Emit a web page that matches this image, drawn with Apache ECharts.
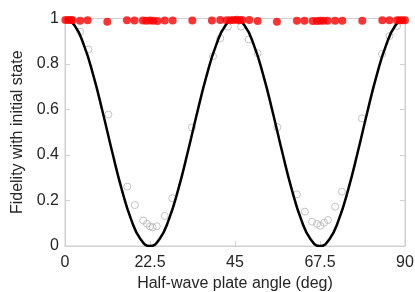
<!DOCTYPE html>
<html><head><meta charset="utf-8">
<script src="https://cdn.jsdelivr.net/npm/echarts@6/dist/echarts.min.js"></script>
<style>html,body{margin:0;padding:0;background:#fff}#c{width:415px;height:292px}</style>
</head><body><div id="c"></div>
<script>
// theory curve
const theoryAngles = [0,2.5,5,7.5,10,12.5,15,17.5,20,22.5,25,27.5,30,32.5,35,37.5,40,42.5,45,47.5,50,52.5,55,57.5,60,62.5,65,67.5,70,72.5,75,77.5,80,82.5,85,87.5,90];
const theoryFidelity = [1,0.970,0.883,0.750,0.587,0.413,0.250,0.117,0.030,0,0.030,0.117,0.250,0.413,0.587,0.750,0.883,0.970,1,0.970,0.883,0.750,0.587,0.413,0.250,0.117,0.030,0,0.030,0.117,0.250,0.413,0.587,0.750,0.883,0.970,1];
// open gray circles
const openAngles = [4.0,6.2,11.5,16.5,18.5,20.7,21.7,22.5,23.2,24.3,26.4,28.4,33.6,39.2,41.1,43.1,46.6,48.6,51.0,56.2,61.4,63.5,65.4,66.7,67.6,68.6,69.6,71.5,73.3,78.6,83.9,85.9,87.9];
const openFidelity = [0.942,0.864,0.578,0.261,0.180,0.112,0.098,0.086,0.082,0.087,0.132,0.210,0.521,0.834,0.913,0.964,0.964,0.908,0.847,0.522,0.227,0.151,0.107,0.097,0.089,0.102,0.114,0.173,0.239,0.561,0.844,0.923,0.967];
// red filled dots
const redAngles = [0.1,0.9,1.6,2.0,4.0,6.0,11.2,16.4,18.4,20.6,21.5,22.5,23.4,24.5,26.4,28.5,33.7,38.9,41.1,42.8,43.7,44.6,45.5,46.2,46.9,48.8,51.0,56.1,61.4,63.4,65.6,66.7,67.6,68.4,69.5,71.5,73.4,78.7,84.0,85.9,87.9,88.6,89.3,90.0];
const redFidelity = [0.993,0.993,0.993,0.992,0.990,0.992,0.986,0.992,0.991,0.991,0.990,0.991,0.990,0.989,0.991,0.991,0.991,0.991,0.993,0.992,0.992,0.993,0.995,0.992,0.993,0.993,0.989,0.986,0.990,0.990,0.989,0.989,0.990,0.990,0.990,0.990,0.990,0.990,0.992,0.992,0.992,0.992,0.992,0.992];
const xTicks = [0,22.5,45,67.5,90];

const zip = (a,b)=>a.map((v,i)=>[v,b[i]]);
const gridColor = '#d0d0d0';
const txt = '#262626';
const font = 'Liberation Sans, Arial, sans-serif';
const chart = echarts.init(document.getElementById('c'), null, {renderer:'canvas'});
chart.setOption({
  animation:false,
  grid:{left:65,right:10,top:18.5,bottom:46,outerBoundsMode:'none',containLabel:false,show:true,borderColor:gridColor,borderWidth:1,backgroundColor:'transparent'},
  xAxis:{type:'value',min:0,max:90,interval:22.5,
    name:'Half-wave plate angle (deg)',nameLocation:'middle',nameGap:29,
    nameTextStyle:{fontSize:16,color:txt,fontFamily:font},
    axisLine:{show:true,lineStyle:{color:gridColor}},
    axisTick:{show:true,inside:true,length:5,lineStyle:{color:gridColor}},
    axisLabel:{fontSize:16,color:txt,fontFamily:font,margin:9,formatter:v=>xTicks.includes(v)?String(v):''},
    splitLine:{show:false}},
  yAxis:[{type:'value',min:0,max:1,interval:0.2,
    name:'Fidelity with initial state',nameLocation:'middle',nameGap:38,
    nameTextStyle:{fontSize:16,color:txt,fontFamily:font},
    axisLine:{show:true,lineStyle:{color:gridColor}},
    axisTick:{show:true,inside:true,length:5,lineStyle:{color:gridColor}},
    axisLabel:{fontSize:16,color:txt,fontFamily:font,margin:6},
    splitLine:{show:false}},
   {type:'value',min:0,max:1,interval:0.2,position:'right',
    axisLine:{show:true,lineStyle:{color:gridColor}},
    axisTick:{show:true,inside:true,length:5,lineStyle:{color:gridColor}},
    axisLabel:{show:false},splitLine:{show:false}}],
  series:[
    {type:'scatter',data:zip(openAngles,openFidelity),symbol:'circle',symbolSize:7,
     itemStyle:{color:'rgba(0,0,0,0)',borderColor:'#b4b4b4',borderWidth:1},z:2},
    {type:'line',data:zip(theoryAngles,theoryFidelity),smooth:0.5,showSymbol:false,
     lineStyle:{color:'#000',width:2.5},z:3},
    {type:'scatter',data:zip(redAngles,redFidelity),symbol:'circle',symbolSize:8,
     itemStyle:{color:'#ff0000'},z:4}
  ]
});
</script></body></html>
